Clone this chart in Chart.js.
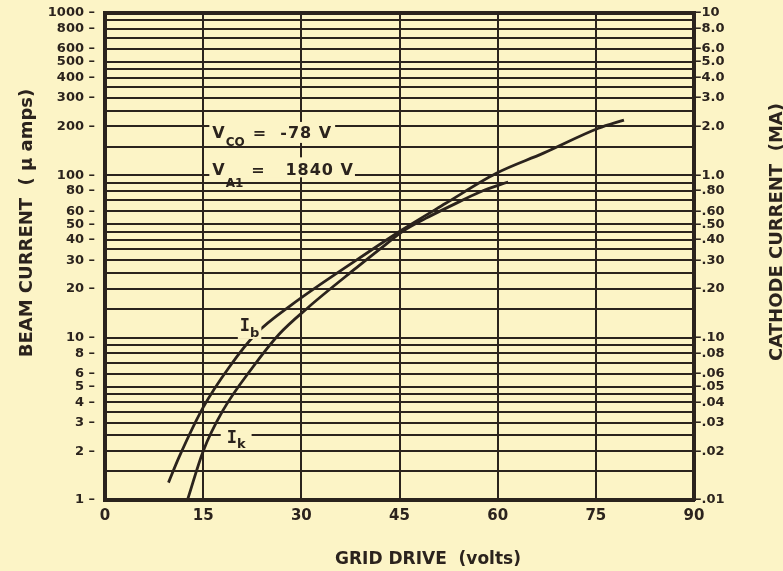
<!DOCTYPE html>
<html>
<head>
<meta charset="utf-8">
<script src="https://cdn.jsdelivr.net/npm/chart.js@4.4.0/dist/chart.umd.min.js"></script>
<style>
  body { margin: 0; background: #fcf4c6; }
  #wrap { width: 783px; height: 571px; position: relative; }
</style>
</head>
<body>
<div id="wrap"><canvas id="myChart"></canvas></div>
<script>
// beam current Ib (µA) vs grid drive (volts)
const ibVolts   = [9.7, 11.3, 15, 19, 23.1, 28.4, 38.4, 45.3, 52, 59.8, 67, 75.4, 79.3];
const ibCurrent = [1.28, 1.83, 3.72, 6.6, 10.6, 15.8, 30, 45.9, 67, 103, 137, 195, 219];

// cathode current Ik (read on the same left scale)
const ikVolts   = [12.6, 15, 18, 22.6, 26.6, 31, 38.4, 42, 45.5, 49, 53, 57.3, 61.6];
const ikCurrent = [1.0, 2.0, 3.55, 6.6, 10.5, 15.3, 26.9, 35.1, 45.2, 54.3, 65.3, 79, 91];

// axis ticks
const xTicks = [0, 15, 30, 45, 60, 75, 90];
const beamTicks  = [1000, 800, 600, 500, 400, 300, 200, 100, 80, 60, 50, 40, 30, 20, 10, 8, 6, 5, 4, 3, 2, 1];
const beamLabels = ['1000', '800', '600', '500', '400', '300', '200', '100', '80', '60', '50', '40', '30', '20', '10', '8', '6', '5', '4', '3', '2', '1'];
const cathodeTicks  = [10, 8, 6, 5, 4, 3, 2, 1, 0.8, 0.6, 0.5, 0.4, 0.3, 0.2, 0.1, 0.08, 0.06, 0.05, 0.04, 0.03, 0.02, 0.01];
const cathodeLabels = ['10', '8.0', '6.0', '5.0', '4.0', '3.0', '2.0', '1.0', '.80', '.60', '.50', '.40', '.30', '.20', '.10', '.08', '.06', '.05', '.04', '.03', '.02', '.01'];
// horizontal rulings inside each decade
const gridMantissas = [1, 1.5, 2, 2.5, 3, 3.5, 4, 4.5, 5, 6, 7, 8, 9];
const gridDecades = [1, 10, 100];

const ink = '#2b231d';
const paper = '#fcf4c6';
const font = "'DejaVu Sans'";

const gridValues = [];
gridDecades.forEach(d => gridMantissas.forEach(m => gridValues.push(m * d)));
gridValues.push(1000);

function findLabel(vals, labels, v) {
  const i = vals.findIndex(t => Math.abs(t - v) / t < 1e-6);
  return i < 0 ? '' : labels[i];
}

// text with subscripts, optional paper box behind
function drawParts(ctx, parts, x, y, box) {
  let w = 0;
  parts.forEach(p => { ctx.font = p.f; ctx.letterSpacing = p.ls || '0px'; w += ctx.measureText(p.t).width + (p.gap || 0); });
  if (box) {
    ctx.fillStyle = paper;
    ctx.fillRect(x - box[0], y - box[1], w + box[0] + box[2], box[1] + box[3]);
  }
  ctx.fillStyle = ink;
  let cx = x;
  parts.forEach(p => {
    ctx.font = p.f;
    ctx.letterSpacing = p.ls || '0px';
    ctx.fillText(p.t, cx, y + (p.dy || 0));
    cx += ctx.measureText(p.t).width + (p.gap || 0);
  });
  ctx.letterSpacing = '0px';
}

const notes = {
  id: 'notes',
  afterDatasetsDraw(chart) {
    const ctx = chart.ctx;
    const xs = chart.scales.x, ys = chart.scales.y;
    ctx.save();
    ctx.textAlign = 'left';
    ctx.textBaseline = 'alphabetic';
    const big = 'bold 16px ' + font;
    const sub = 'bold 12px ' + font;

    let ax = xs.getPixelForValue(16.4), ay = ys.getPixelForValue(170);
    drawParts(ctx, [
      { t: 'V', f: big, gap: 1 },
      { t: 'CO', f: sub, dy: 8, gap: 8 },
      { t: '=  -78 V', f: big, ls: '1px' }
    ], ax, ay, [3, 16, 3, 5]);

    ax = xs.getPixelForValue(16.4); ay = ys.getPixelForValue(100);
    drawParts(ctx, [
      { t: 'V', f: big, gap: 1 },
      { t: 'A1', f: sub, dy: 12, gap: 8 },
      { t: '=   1840 V', f: big, ls: '1px' }
    ], ax, ay, [3, 18, 1, 2]);

    // curve names
    const mono = "bold 17px 'DejaVu Sans Mono'";
    const msub = 'bold 13px ' + font;
    drawParts(ctx, [
      { t: 'I', f: mono, gap: 0 },
      { t: 'b', f: msub, dy: 6 }
    ], xs.getPixelForValue(20.6), ys.getPixelForValue(11), [2, 13, 2, 8]);
    drawParts(ctx, [
      { t: 'I', f: mono, gap: 0 },
      { t: 'k', f: msub, dy: 5 }
    ], xs.getPixelForValue(18.6), ys.getPixelForValue(2.25), [6, 12, 6, 7]);

    // axis titles
    ctx.font = 'bold 17px ' + font;
    ctx.textAlign = 'center';
    ctx.fillText('GRID DRIVE  (volts)', 428, 564);
    ctx.font = 'bold 18px ' + font;
    ctx.save();
    ctx.translate(32, 223);
    ctx.rotate(-Math.PI / 2);
    ctx.fillText('BEAM CURRENT  ( µ amps)', 0, 0);
    ctx.restore();
    ctx.save();
    ctx.translate(782, 232);
    ctx.rotate(-Math.PI / 2);
    ctx.fillText('CATHODE CURRENT  (MA)', 0, 0);
    ctx.restore();
    ctx.restore();
  }
};

new Chart(document.getElementById('myChart'), {
  type: 'line',
  data: {
    datasets: [
      {
        label: 'Ib',
        data: ibVolts.map((v, i) => ({ x: v, y: ibCurrent[i] })),
        borderColor: ink,
        borderWidth: 2.8,
        pointRadius: 0,
        cubicInterpolationMode: 'monotone'
      },
      {
        label: 'Ik',
        data: ikVolts.map((v, i) => ({ x: v, y: ikCurrent[i] })),
        borderColor: ink,
        borderWidth: 2.8,
        pointRadius: 0,
        cubicInterpolationMode: 'monotone'
      }
    ]
  },
  options: {
    responsive: true,
    maintainAspectRatio: false,
    animation: false,
    layout: { padding: { top: 13, left: 0, right: 0, bottom: 0 } },
    plugins: { legend: { display: false }, tooltip: { enabled: false } },
    scales: {
      x: {
        type: 'linear',
        min: 0,
        max: 90,
        afterBuildTicks: s => { s.ticks = xTicks.map(v => ({ value: v })); },
        afterFit: s => { s.height = 71; },
        grid: { color: ink, lineWidth: 2, drawTicks: false },
        border: { color: ink, width: 4 },
        ticks: {
          color: ink,
          padding: 7,
          autoSkip: false,
          maxRotation: 0,
          font: { family: font, size: 15, weight: 'bold' },
          callback: v => String(v)
        }
      },
      y: {
        type: 'logarithmic',
        min: 1,
        max: 1000,
        afterBuildTicks: s => { s.ticks = gridValues.map(v => ({ value: v })); },
        afterFit: s => { s.width = 105; s.paddingTop = 0; s.paddingBottom = 0; },
        grid: {
          color: ink,
          drawTicks: false,
          lineWidth: c => (c.tick && c.tick.value === 1000 ? 4 : 2)
        },
        border: { color: ink, width: 4 },
        ticks: {
          color: ink,
          padding: 10,
          autoSkip: false,
          font: { family: font, size: 13, weight: 'bold' },
          callback: v => {
            const l = findLabel(beamTicks, beamLabels, v);
            return l ? l + ' \u2013' : '';
          }
        }
      },
      y2: {
        type: 'logarithmic',
        position: 'right',
        min: 0.01,
        max: 10,
        afterBuildTicks: s => { s.ticks = cathodeTicks.map(v => ({ value: v })); },
        afterFit: s => { s.width = 89; s.paddingTop = 0; s.paddingBottom = 0; },
        grid: { display: false, drawTicks: false },
        border: { color: ink, width: 4 },
        ticks: {
          color: ink,
          padding: 1,
          autoSkip: false,
          font: { family: font, size: 13, weight: 'bold' },
          callback: v => '\u2013' + findLabel(cathodeTicks, cathodeLabels, v)
        }
      }
    }
  },
  plugins: [notes]
});
</script>
</body>
</html>
